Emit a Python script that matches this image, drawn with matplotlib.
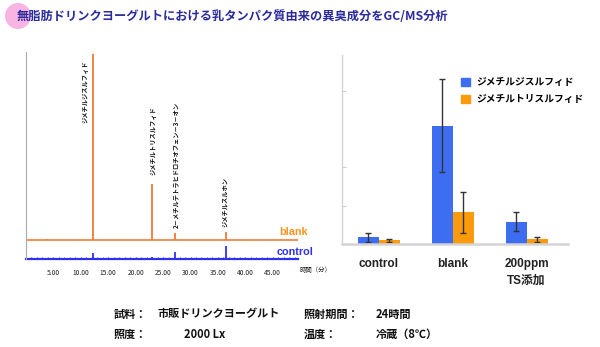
import matplotlib
matplotlib.use("Agg")
import matplotlib.pyplot as plt
from matplotlib.patches import Circle, Patch


# ======================================================
# Data
# ======================================================

title = "無脂肪ドリンクヨーグルトにおける乳タンパク質由来の異臭成分をGC/MS分析"

# chromatogram peaks (retention time [min], peak height [a.u.])
peakTimes = [3.8, 12.27, 22.9, 27.2, 36.4]
blankHeights = [1.5, 186, 56, 7.5, 8]
controlHeights = [0.5, 5.7, 2.0, 7.0, 13]

peakLabels = ["ジメチルジスルフィド", "ジメチルトリスルフィド",
              "2－メチルテトラヒドロチオフェン－3－オン", "ジメチルスルホン"]
labelTimes = [10.85, 23.2, 27.2, 36.3]
labelBottoms = [136, 84, 31, 32]

timeTicks = [5, 10, 15, 20, 25, 30, 35, 40, 45]

# bar chart
groups = ["control", "blank", "200ppm\nTS添加"]
dmds = [0.175, 3.09, 0.58]
dmdsErr = [0.11, 1.21, 0.25]
dmts = [0.097, 0.83, 0.12]
dmtsErr = [0.04, 0.535, 0.07]
seriesNames = ["ジメチルジスルフィド", "ジメチルトリスルフィド"]

conditions = [
    ("試料：", "市販ドリンクヨーグルト", "照射期間：", "24時間"),
    ("照度：", "2000 Lx", "温度：", "冷蔵（8℃）"),
]


# ======================================================
# Style
# ======================================================

plt.rcParams["font.family"] = ["Noto Sans CJK JP", "DejaVu Sans"]
latin = ["Liberation Sans", "Noto Sans CJK JP"]

W, H = 600, 347
blankColor = "#f57a36"
controlColor = "#3030f0"
barBlue = "#3d6ef2"
barOrange = "#fb9a0a"

fig = plt.figure(figsize=(W / 100, H / 100), dpi=100)


def box(l, t, r, b):
    return [l / W, 1 - b / H, (r - l) / W, (b - t) / H]


# title + pink circle
fig.patches.append(Circle((0.18, (H - 16) / 100), 0.13,
                          transform=fig.dpi_scale_trans,
                          facecolor="#f7a8de", edgecolor="none", alpha=0.85))
fig.text(17 / W, 1 - 17 / H, title, fontsize=8.8, fontweight="bold",
         color="#2b2b9e", va="center", ha="left")


# ======================================================
# Chromatogram
# ======================================================

ax1 = fig.add_axes(box(26, 52, 298, 259))
offset = 19
ax1.set_xlim(0, 49.6)
ax1.set_ylim(0, 207)

ax1.axhline(offset, color=blankColor, lw=1.2, zorder=2)
ax1.vlines(peakTimes, offset, [offset + h for h in blankHeights],
           color=blankColor, lw=1.3)
ax1.axhline(0, color=controlColor, lw=1.6, zorder=2, clip_on=False)
ax1.vlines(peakTimes, 0, controlHeights, color=controlColor, lw=1.3)

for lab, t, yb in zip(peakLabels, labelTimes, labelBottoms):
    ax1.text(t, yb, lab, rotation=90, fontsize=4.5, fontweight="bold",
             ha="center", va="bottom", color="#111111")

ax1.text(51.4, offset + 3, "blank", color="#f7941d", fontsize=7.8,
         family=latin, fontweight="bold", ha="right", va="bottom",
         clip_on=False)
ax1.text(52.5, 2, "control", color=controlColor, fontsize=7.8,
         family=latin, fontweight="bold", ha="right", va="bottom",
         clip_on=False)

ax1.set_xticks(timeTicks)
ax1.set_xticklabels([f"{t:.2f}" for t in timeTicks], fontsize=4.8,
                    color="#222222")
ax1.set_xticks(range(1, 50), minor=True)
ax1.tick_params(axis="x", which="both", direction="in", length=1.5,
                color=controlColor, pad=7)
ax1.set_yticks([])
for s in ["top", "right", "bottom"]:
    ax1.spines[s].set_visible(False)
ax1.spines["left"].set_color("#aaaaaa")
ax1.spines["left"].set_linewidth(0.8)
ax1.text(1.005, -0.052, "時間（分）", transform=ax1.transAxes, fontsize=4.6,
         ha="left", va="center", color="#222222")


# ======================================================
# Bar chart
# ======================================================

ax2 = fig.add_axes(box(342, 55, 568, 244))
x = range(len(groups))
w = 0.284
ax2.bar([i - w / 2 for i in x], dmds, w, yerr=dmdsErr, color=barBlue,
        capsize=2.5, error_kw=dict(ecolor="#333333", lw=1.0, capthick=1.0))
ax2.bar([i + w / 2 for i in x], dmts, w, yerr=dmtsErr, color=barOrange,
        capsize=2.5, error_kw=dict(ecolor="#333333", lw=1.0, capthick=1.0))
ax2.set_xlim(-0.495, 2.56)
ax2.set_ylim(0, 4.93)
ax2.set_xticks(list(x))
ax2.set_xticklabels(groups, fontsize=8.5, fontweight="bold", color="#222222",
                    family=latin, linespacing=1.55)
ax2.tick_params(axis="x", length=0, pad=10)
ax2.set_yticks([1, 2, 4])
ax2.set_yticklabels([])
ax2.tick_params(axis="y", direction="in", length=3, color="#cccccc")
for s in ["top", "right"]:
    ax2.spines[s].set_visible(False)
for s in ["left", "bottom"]:
    ax2.spines[s].set_color("#d4d4d4")
ax2.spines["bottom"].set_linewidth(1.8)
ax2.spines["left"].set_linewidth(1.0)

handles = [Patch(color=barBlue), Patch(color=barOrange)]
ax2.legend(handles, seriesNames, loc="upper left", bbox_to_anchor=(0.49, 0.93),
           frameon=False, prop=dict(size=7, weight="bold"), handlelength=0.9,
           handleheight=0.9, handletextpad=0.6, labelspacing=0.75)


# ======================================================
# Conditions text
# ======================================================

rowY = [314, 334]
colX = [[114, 157, 304, 376], [114, 184, 304, 376]]
for y, xs, row in zip(rowY, colX, conditions):
    for cx, txt in zip(xs, row):
        fig.text(cx / W, 1 - y / H, txt, fontsize=8, fontweight="bold",
                 color="#111111", va="center", ha="left")

fig.savefig("out.png", dpi=100)
